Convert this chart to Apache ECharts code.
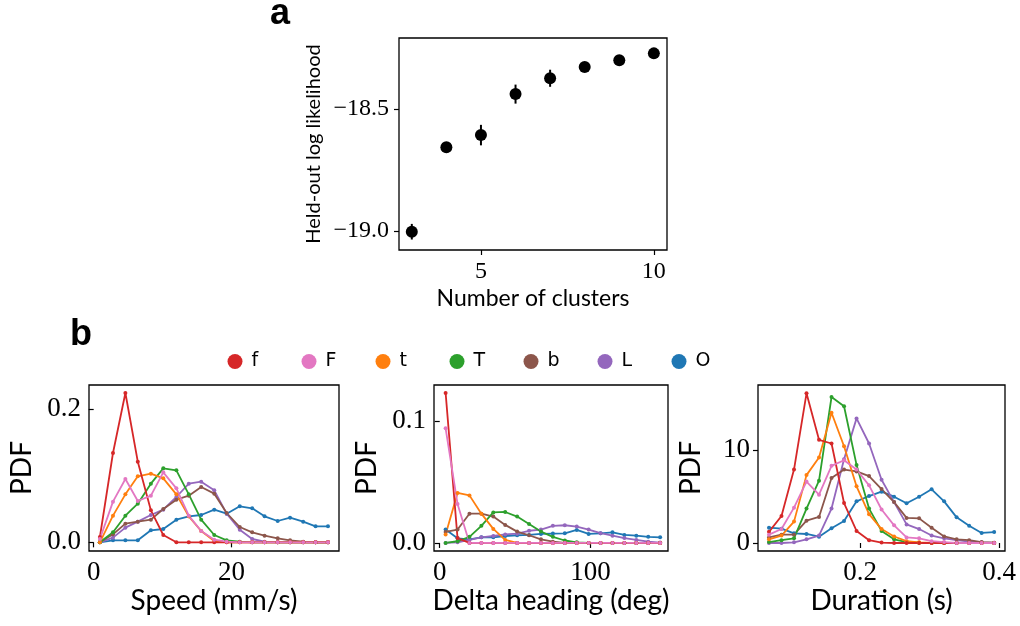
<!DOCTYPE html>
<html>
<head>
<meta charset="utf-8">
<script src="https://cdn.jsdelivr.net/npm/echarts@6/dist/echarts.min.js"></script>
<style>
  html, body { margin: 0; padding: 0; background: #fff; }
  #chart { width: 1020px; height: 626px; }
</style>
</head>
<body>
<div id="chart"></div>
<script>
// panel a: held-out log likelihood vs number of clusters
let clusters = [3, 4, 5, 6, 7, 8, 9, 10]
let logLik = [-19.003, -18.657, -18.607, -18.439, -18.374, -18.328, -18.300, -18.272]
let logLikErr = [0.032, 0.015, 0.042, 0.039, 0.035, 0.015, 0.012, 0.012]

// panel b: behaviour types
let names = ['f', 'F', 't', 'T', 'b', 'L', 'O']
let colors = ['#d62728', '#e377c2', '#ff7f0e', '#2ca02c', '#8c564b', '#9467bd', '#1f77b4']
let drawOrder = ['O', 'L', 'b', 'T', 't', 'f', 'F']

// speed (mm/s)
let speedX = [0.9, 2.8, 4.6, 6.4, 8.3, 10.1, 12.0, 13.8, 15.6, 17.5, 19.3, 21.2, 23.0, 24.8, 26.7, 28.5, 30.4, 32.2, 34.0]
let speed_f = [0.008, 0.134, 0.224, 0.121, 0.048, 0.011, 0, 0, 0, 0, 0, 0, 0, 0, 0, 0, 0, 0, 0]
let speed_F = [0.005, 0.061, 0.095, 0.062, 0.070, 0.105, 0.081, 0.040, 0.017, 0.004, 0.001, 0, 0, 0, 0, 0, 0, 0, 0]
let speed_t = [0, 0.040, 0.072, 0.099, 0.103, 0.096, 0.072, 0.039, 0.017, 0.002, 0, 0, 0, 0, 0, 0, 0, 0, 0]
let speed_T = [0, 0.015, 0.040, 0.058, 0.088, 0.111, 0.108, 0.072, 0.034, 0.011, 0.003, 0.001, 0, 0, 0, 0, 0, 0, 0]
let speed_b = [0, 0.012, 0.028, 0.031, 0.034, 0.050, 0.064, 0.070, 0.083, 0.073, 0.044, 0.023, 0.015, 0.010, 0.006, 0.003, 0.001, 0, 0]
let speed_L = [0, 0.007, 0.022, 0.031, 0.041, 0.049, 0.068, 0.088, 0.091, 0.078, 0.043, 0.019, 0.005, 0.001, 0, 0, 0, 0, 0]
let speed_O = [0, 0.003, 0.003, 0.003, 0.018, 0.020, 0.034, 0.039, 0.041, 0.049, 0.043, 0.054, 0.051, 0.039, 0.032, 0.037, 0.031, 0.024, 0.024]

// delta heading (deg)
let headingX = [3.9, 11.8, 19.7, 27.6, 35.5, 43.4, 51.3, 59.2, 67.1, 75.0, 82.9, 90.8, 98.7, 106.6, 114.5, 122.4, 130.3, 138.2, 146.1]
let heading_f = [0.123, 0.004, 0, 0, 0, 0, 0, 0, 0, 0, 0, 0, 0, 0, 0, 0, 0, 0, 0]
let heading_F = [0.094, 0.032, 0, 0, 0, 0, 0, 0, 0, 0, 0, 0, 0, 0, 0, 0, 0, 0, 0]
let heading_t = [0.007, 0.041, 0.039, 0.024, 0.0115, 0.0025, 0, 0, 0, 0, 0, 0, 0, 0, 0, 0, 0, 0, 0]
let heading_T = [0, 0.0014, 0.005, 0.014, 0.025, 0.0254, 0.0216, 0.0156, 0.0093, 0.005, 0.002, 0.0005, 0, 0, 0, 0, 0, 0, 0]
let heading_b = [0.009, 0.011, 0.024, 0.024, 0.0216, 0.0148, 0.0093, 0.0063, 0.003, 0.001, 0, 0, 0, 0, 0, 0, 0, 0, 0]
let heading_L = [0, 0.0005, 0.0025, 0.0046, 0.0057, 0.007, 0.0076, 0.010, 0.011, 0.014, 0.0145, 0.0134, 0.011, 0.008, 0.006, 0.004, 0.0025, 0.001, 0.0003]
let heading_O = [0.011, 0.0038, 0.003, 0.0046, 0.0046, 0.0057, 0.0063, 0.0066, 0.0074, 0.0077, 0.0079, 0.0107, 0.0074, 0.0079, 0.0087, 0.0066, 0.006, 0.005, 0.0046]

// duration (s)
let durationX = [0.069, 0.087, 0.105, 0.123, 0.141, 0.159, 0.177, 0.195, 0.213, 0.231, 0.249, 0.267, 0.285, 0.303, 0.321, 0.339, 0.357, 0.375, 0.393]
let duration_f = [1.2, 2.9, 7.9, 16.1, 11.1, 10.7, 4.3, 1.3, 0.3, 0.05, 0, 0, 0, 0, 0, 0, 0, 0, 0]
let duration_F = [0.9, 1.5, 3.8, 6.6, 5.2, 8.3, 8.9, 7.9, 6.2, 3.6, 1.9, 0.6, 0.5, 0.2, 0.1, 0, 0, 0, 0]
let duration_t = [0.4, 0.8, 2.3, 7.3, 9.2, 14.0, 10.4, 6.1, 3.1, 1.5, 0.7, 0.2, 0.07, 0, 0, 0, 0, 0, 0]
let duration_T = [0.1, 0.3, 0.5, 3.7, 6.7, 15.7, 14.7, 8.4, 3.7, 1.3, 0.4, 0.1, 0.04, 0, 0, 0, 0, 0, 0]
let duration_b = [0.6, 0.9, 0.9, 2.4, 2.8, 7.0, 7.9, 7.7, 7.2, 5.8, 4.4, 2.7, 2.65, 1.65, 0.7, 0.4, 0.3, 0.1, 0.04]
let duration_L = [0, 0, 0.07, 0.4, 0.8, 3.7, 9.0, 13.4, 10.7, 6.8, 4.4, 2.0, 1.5, 0.8, 0.5, 0.3, 0.14, 0.07, 0.04]
let duration_O = [1.65, 1.54, 1.04, 0.97, 0.68, 1.58, 2.37, 4.48, 5.05, 5.52, 4.98, 4.27, 4.98, 5.77, 4.48, 2.76, 1.86, 1.08, 1.18]

let panels = [
  { x: speedX, y: { f: speed_f, F: speed_F, t: speed_t, T: speed_T, b: speed_b, L: speed_L, O: speed_O } },
  { x: headingX, y: { f: heading_f, F: heading_F, t: heading_t, T: heading_T, b: heading_b, L: heading_L, O: heading_O } },
  { x: durationX, y: { f: duration_f, F: duration_F, t: duration_t, T: duration_T, b: duration_b, L: duration_L, O: duration_O } }
]

const SERIF = 'Liberation Serif'
const SANS = 'Lato'

function makeAxis (gridIndex, min, max, ticks, fmt, opts) {
  return Object.assign({
    type: 'value',
    gridIndex: gridIndex,
    min: min,
    max: max,
    splitLine: { show: false },
    axisLine: { show: false },
    axisTick: { show: true, inside: false, length: 5, customValues: ticks, lineStyle: { color: '#000', width: 1.2 } },
    axisLabel: { customValues: ticks, formatter: fmt, color: '#000', fontFamily: SERIF, fontSize: 27, margin: 8 },
    nameLocation: 'middle',
    nameTextStyle: { color: '#000', fontFamily: SANS, fontSize: 28 }
  }, opts)
}

let chart = echarts.init(document.getElementById('chart'), null, { renderer: 'canvas' })

let gridBox = { show: true, borderColor: '#000', borderWidth: 1.3, backgroundColor: 'transparent' }
let grids = [
  Object.assign({ left: 399, top: 38, width: 268, height: 212 }, gridBox),
  Object.assign({ left: 89, top: 385, width: 250, height: 166 }, gridBox),
  Object.assign({ left: 434, top: 385, width: 234, height: 166 }, gridBox),
  Object.assign({ left: 758, top: 385, width: 247, height: 166 }, gridBox)
]

let fmtNeg = v => '\u2212' + Math.abs(v).toFixed(1)

let xAxes = [
  makeAxis(0, 2.63, 10.38, [5, 10], v => String(v), {
    name: 'Number of clusters', nameGap: 37,
    nameTextStyle: { color: '#000', fontFamily: SANS, fontSize: 23 },
    axisLabel: { customValues: [5, 10], color: '#000', fontFamily: SERIF, fontSize: 24, margin: 10 }
  }),
  makeAxis(1, -0.68, 35.6, [0, 20], v => String(v), { name: 'Speed (mm/s)', nameGap: 36 }),
  makeAxis(2, -3.8, 151.3, [0, 100], v => String(v), { name: 'Delta heading (deg)', nameGap: 36 }),
  makeAxis(3, 0.0532, 0.4086, [0.2, 0.4], v => v.toFixed(1), { name: 'Duration (s)', nameGap: 36 })
]

let yAxes = [
  makeAxis(0, -19.078, -18.209, [-19.0, -18.5], fmtNeg, {
    name: 'Held-out log likelihood', nameGap: 75,
    nameTextStyle: { color: '#000', fontFamily: SANS, fontSize: 20 },
    axisLabel: { customValues: [-19.0, -18.5], formatter: fmtNeg, color: '#000', fontFamily: SERIF, fontSize: 24, margin: 10 }
  }),
  makeAxis(1, -0.013, 0.236, [0, 0.2], v => v.toFixed(1), { name: 'PDF', nameGap: 53 }),
  makeAxis(2, -0.0066, 0.1295, [0, 0.1], v => v.toFixed(1), { name: 'PDF', nameGap: 53 }),
  makeAxis(3, -0.86, 16.99, [0, 10], v => String(v), { name: 'PDF', nameGap: 53 })
]

let series = []

// panel a: error bars then points
series.push({
  type: 'custom',
  xAxisIndex: 0,
  yAxisIndex: 0,
  renderItem: function (params, api) {
    let x = api.value(0)
    let y = api.value(1)
    let e = api.value(2)
    let p1 = api.coord([x, y - e])
    let p2 = api.coord([x, y + e])
    return {
      type: 'line',
      shape: { x1: p1[0], y1: p1[1], x2: p2[0], y2: p2[1] },
      style: { stroke: '#000', lineWidth: 2 }
    }
  },
  data: clusters.map((c, i) => [c, logLik[i], logLikErr[i]]),
  z: 2
})
series.push({
  type: 'scatter',
  xAxisIndex: 0,
  yAxisIndex: 0,
  symbol: 'circle',
  symbolSize: 12,
  itemStyle: { color: '#000', opacity: 1 },
  data: clusters.map((c, i) => [c, logLik[i]]),
  z: 3
})

// panel b: one line per type in each of the three axes
panels.forEach((p, k) => {
  drawOrder.forEach(name => {
    let color = colors[names.indexOf(name)]
    series.push({
      type: 'line',
      name: name,
      xAxisIndex: k + 1,
      yAxisIndex: k + 1,
      symbol: 'circle',
      symbolSize: 4,
      showSymbol: true,
      color: color,
      itemStyle: { color: color },
      lineStyle: { color: color, width: 1.8 },
      data: p.x.map((x, i) => [x, p.y[name][i]])
    })
  })
})

// one legend per type so the entries sit at an even spacing
let legends = names.map((n, i) => ({
  data: [n],
  left: 222.5 + 74 * i,
  top: 347,
  icon: 'circle',
  itemWidth: 15,
  itemHeight: 17,
  textStyle: { fontFamily: 'DejaVu Sans', fontSize: 19, color: '#000', padding: [0, 0, 0, 4] }
}))

chart.setOption({
  animation: false,
  backgroundColor: '#fff',
  title: [
    { text: 'a', left: 265, top: -9, textStyle: { fontFamily: 'Liberation Sans', fontWeight: 'bold', fontSize: 36, color: '#000' } },
    { text: 'b', left: 65, top: 312, textStyle: { fontFamily: 'Liberation Sans', fontWeight: 'bold', fontSize: 36, color: '#000' } }
  ],
  legend: legends,
  grid: grids,
  xAxis: xAxes,
  yAxis: yAxes,
  series: series
})
</script>
</body>
</html>
